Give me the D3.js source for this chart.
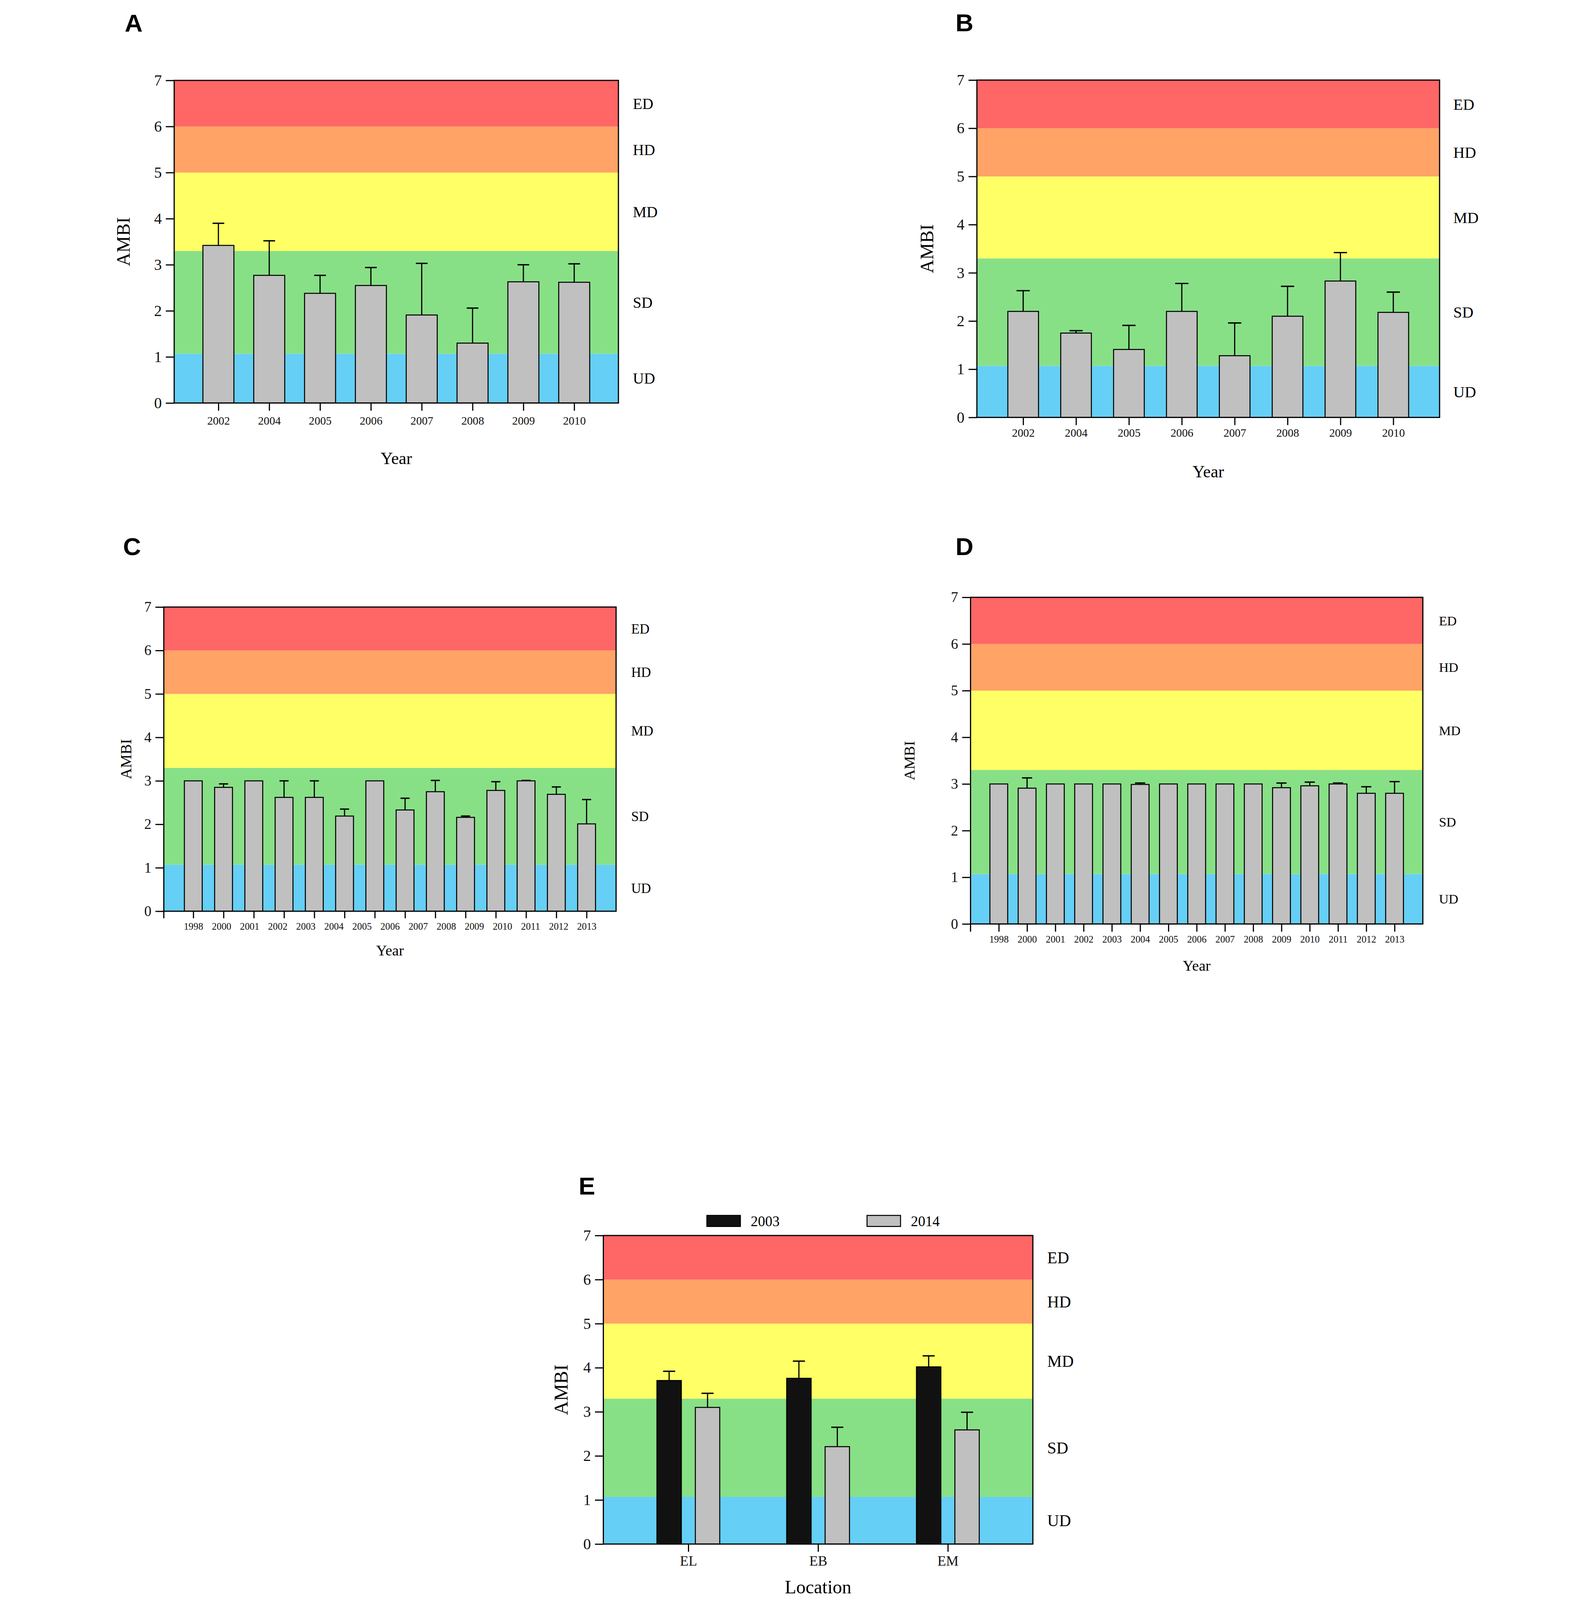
<!DOCTYPE html>
<html>
<head>
<meta charset="utf-8">
<script src="https://cdn.jsdelivr.net/npm/d3@7"></script>
<style>
  html, body { margin: 0; padding: 0; background: #fff; width: 100%; height: 100%; overflow: hidden; }
  svg { display: block; width: 100vw; height: 100vh; }
</style>
</head>
<body>
<script>
var W = 4083, H = 4776;

// AMBI disturbance classes (shared by every panel)
var bandLimits = [0, 1.07, 3.3, 5, 6, 7];
var bandNames = ["UD", "SD", "MD", "HD", "ED"];
var bandColors = ["#66cff5", "#88e086", "#ffff66", "#ffa366", "#ff6666"];
var yTicks = [0, 1, 2, 3, 4, 5, 6, 7];

// panel A
var yearsA = ["2002", "2004", "2005", "2006", "2007", "2008", "2009", "2010"];
var meanA = [3.42, 2.77, 2.38, 2.55, 1.91, 1.30, 2.63, 2.62];
var errA = [0.48, 0.75, 0.39, 0.39, 1.12, 0.76, 0.37, 0.40];

// panel B
var yearsB = ["2002", "2004", "2005", "2006", "2007", "2008", "2009", "2010"];
var meanB = [2.20, 1.75, 1.41, 2.20, 1.28, 2.10, 2.83, 2.18];
var errB = [0.43, 0.05, 0.50, 0.58, 0.68, 0.62, 0.59, 0.42];

// panel C: 14 bars but 15 year labels in the original figure
var yearsC = ["1998", "2000", "2001", "2002", "2003", "2004", "2005", "2006",
              "2007", "2008", "2009", "2010", "2011", "2012", "2013"];
var meanC = [3.00, 2.85, 3.00, 2.62, 2.62, 2.19, 3.00, 2.33, 2.75, 2.16, 2.78, 3.00, 2.69, 2.01];
var errC = [0, 0.08, 0, 0.38, 0.38, 0.16, 0, 0.27, 0.26, 0.03, 0.20, 0.01, 0.17, 0.56];

// panel D
var yearsD = ["1998", "2000", "2001", "2002", "2003", "2004", "2005", "2006",
              "2007", "2008", "2009", "2010", "2011", "2012", "2013"];
var meanD = [3.00, 2.91, 3.00, 3.00, 3.00, 2.99, 3.00, 3.00, 3.00, 3.00, 2.92, 2.96, 3.00, 2.80, 2.80];
var errD = [0, 0.22, 0, 0, 0, 0.03, 0, 0, 0, 0, 0.10, 0.08, 0.02, 0.14, 0.25];

// panel E
var locationsE = ["EL", "EB", "EM"];
var seriesE = ["2003", "2014"];
var mean2003 = [3.71, 3.76, 4.02];
var err2003 = [0.21, 0.39, 0.25];
var mean2014 = [3.10, 2.21, 2.59];
var err2014 = [0.32, 0.44, 0.40];

var serif = "'Liberation Serif', 'Times New Roman', serif";
var sans = "'Liberation Sans', Arial, sans-serif";

// scale the whole figure into whatever viewport we get
var svg = d3.select("body").append("svg")
    .attr("viewBox", "0 0 " + W + " " + H)
    .attr("preserveAspectRatio", "xMidYMin meet");

// background bands, frame, y axis, band names, titles
function drawFrame(g, p, y) {
  var w = p.box[2] - p.box[0], h = p.box[3] - p.box[1];
  var bands = d3.range(bandNames.length);

  g.selectAll("rect.band")
    .data(bands)
    .join("rect")
      .attr("class", "band")
      .attr("x", 0)
      .attr("width", w)
      .attr("y", function(i) { return y(bandLimits[i + 1]); })
      .attr("height", function(i) { return y(bandLimits[i]) - y(bandLimits[i + 1]); })
      .attr("fill", function(i) { return bandColors[i]; });

  g.selectAll("text.bandname")
    .data(bands)
    .join("text")
      .attr("class", "bandname")
      .attr("x", w + p.bandX)
      .attr("y", function(i) { return y((bandLimits[i] + bandLimits[i + 1]) / 2); })
      .attr("dy", "0.35em")
      .style("font-family", serif)
      .style("font-size", p.bandFs + "px")
      .text(function(i) { return bandNames[i]; });

  var ya = g.append("g")
      .call(d3.axisLeft(y).tickValues(yTicks).tickFormat(d3.format("d"))
        .tickSize(25).tickPadding(12));
  ya.select(".domain").remove();
  ya.selectAll("line").attr("stroke-width", 3.5);
  ya.selectAll("text")
      .style("font-family", serif)
      .style("font-size", p.tickFs + "px")
      .attr("fill", "#111");

  g.append("text")
      .attr("transform", "translate(" + (-p.ylabX) + "," + (h / 2) + ") rotate(-90)")
      .attr("text-anchor", "middle")
      .attr("dy", "0.35em")
      .style("font-family", serif)
      .style("font-size", p.ylabFs + "px")
      .text("AMBI");

  g.append("text")
      .attr("x", w / 2)
      .attr("y", h + p.titleY)
      .attr("text-anchor", "middle")
      .attr("dy", "0.35em")
      .style("font-family", serif)
      .style("font-size", p.titleFs + "px")
      .text(p.title);

  svg.append("text")
      .attr("x", p.lx)
      .attr("y", p.ly)
      .attr("text-anchor", "middle")
      .attr("dy", "0.36em")
      .style("font-family", sans)
      .style("font-weight", "bold")
      .style("font-size", "74px")
      .text(p.letter);
}

function drawBars(g, cx, y, mean, err, bw, cw, fill) {
  var idx = d3.range(mean.length);
  g.selectAll(null)
    .data(idx)
    .join("rect")
      .attr("x", function(i) { return cx(i) - bw / 2; })
      .attr("width", bw)
      .attr("y", function(i) { return y(mean[i]); })
      .attr("height", function(i) { return y(0) - y(mean[i]); })
      .attr("fill", fill)
      .attr("stroke", "#000")
      .attr("stroke-width", 3);

  var eb = idx.filter(function(i) { return err[i] > 0; });
  g.selectAll(null)
    .data(eb)
    .join("line")
      .attr("x1", cx).attr("x2", cx)
      .attr("y1", function(i) { return y(mean[i]); })
      .attr("y2", function(i) { return y(mean[i] + err[i]); })
      .attr("stroke", "#000")
      .attr("stroke-width", 3.5);
  g.selectAll(null)
    .data(eb)
    .join("line")
      .attr("x1", function(i) { return cx(i) - cw / 2; })
      .attr("x2", function(i) { return cx(i) + cw / 2; })
      .attr("y1", function(i) { return y(mean[i] + err[i]); })
      .attr("y2", function(i) { return y(mean[i] + err[i]); })
      .attr("stroke", "#000")
      .attr("stroke-width", 4);
}

function outline(g, p) {
  g.append("rect")
      .attr("width", p.box[2] - p.box[0])
      .attr("height", p.box[3] - p.box[1])
      .attr("fill", "none")
      .attr("stroke", "#000")
      .attr("stroke-width", 3.5);
}

function styleX(ax, p) {
  ax.select(".domain").remove();
  ax.selectAll("line").attr("stroke-width", 3.5);
  ax.selectAll("text")
      .style("font-family", serif)
      .style("font-size", p.xFs + "px")
      .attr("fill", "#111");
}

// single-series year panel
function yearPanel(p) {
  var w = p.box[2] - p.box[0], h = p.box[3] - p.box[1];
  var g = svg.append("g").attr("transform", "translate(" + p.box[0] + "," + p.box[1] + ")");
  var y = d3.scaleLinear().domain([0, 7]).range([h, 0]);
  var x = d3.scalePoint().domain(d3.range(p.mean.length)).range([0, w]).padding(p.pad);
  var step = x.step();

  drawFrame(g, p, y);
  drawBars(g, x, y, p.mean, p.err, step * p.barW, step * p.capW, "#c0c0c0");
  outline(g, p);

  var tickLen = p.xTick || 23;
  var pad = p.xOff - 0.38 * p.xFs;
  var ticks = g.append("g")
      .attr("transform", "translate(0," + h + ")")
      .call(d3.axisBottom(x).tickSize(tickLen).tickFormat(""));
  styleX(ticks, p);

  // year labels, spread between first and last bar
  var lx = d3.scalePoint().domain(p.labels).range([x(0), x(p.mean.length - 1)]);
  var labs = g.append("g")
      .attr("transform", "translate(0," + h + ")")
      .call(d3.axisBottom(lx).tickSize(0).tickPadding(pad));
  styleX(labs, p);
  labs.selectAll("line").remove();

  if (p.edgeTick) {
    g.append("line")
        .attr("x1", 0).attr("x2", 0)
        .attr("y1", h).attr("y2", h + tickLen)
        .attr("stroke", "#000")
        .attr("stroke-width", 3.5);
  }
}

yearPanel({ letter: "A", lx: 60, ly: 68, box: [181, 240, 1507, 1203], title: "Year",
  labels: yearsA, mean: meanA, err: errA, pad: 0.87, barW: 0.61, capW: 0.23,
  tickFs: 46, xFs: 34, xOff: 53, titleFs: 51, titleY: 164, bandFs: 46, bandX: 43, ylabFs: 56, ylabX: 152 });

yearPanel({ letter: "B", lx: 2540, ly: 67, box: [2577, 239, 3958, 1246], title: "Year",
  labels: yearsB, mean: meanB, err: errB, pad: 0.875, barW: 0.58, capW: 0.25,
  tickFs: 46, xFs: 34, xOff: 46, titleFs: 51, titleY: 161, bandFs: 47, bandX: 41, ylabFs: 56, ylabX: 150 });

yearPanel({ letter: "C", lx: 55, ly: 1630, box: [150, 1812, 1500, 2720], title: "Year",
  labels: yearsC, mean: meanC, err: errC, pad: 0.975, barW: 0.59, capW: 0.3, edgeTick: true, xTick: 21,
  tickFs: 43, xFs: 29, xOff: 46, titleFs: 45, titleY: 116, bandFs: 41, bandX: 45, ylabFs: 46, ylabX: 113 });

yearPanel({ letter: "D", lx: 2540, ly: 1630, box: [2558, 1783, 3908, 2758], title: "Year",
  labels: yearsD, mean: meanD, err: errD, pad: 1.0, barW: 0.63, capW: 0.36, edgeTick: true,
  tickFs: 43, xFs: 29, xOff: 46, titleFs: 45, titleY: 124, bandFs: 40, bandX: 48, ylabFs: 45, ylabX: 183 });

// panel E: grouped bars by location
(function() {
  var p = { letter: "E", lx: 1413, ly: 3539, box: [1462, 3688, 2744, 4609], title: "Location",
    tickFs: 46, xFs: 42, xOff: 50, titleFs: 56, titleY: 127, bandFs: 49, bandX: 43, ylabFs: 58, ylabX: 127 };
  var w = p.box[2] - p.box[0], h = p.box[3] - p.box[1];
  var g = svg.append("g").attr("transform", "translate(" + p.box[0] + "," + p.box[1] + ")");
  var y = d3.scaleLinear().domain([0, 7]).range([h, 0]);
  var x = d3.scalePoint().domain(locationsE).range([0, w]).padding(0.655);
  var step = x.step();
  var off = step * 0.148, bw = step * 0.188, cw = step * 0.093;

  drawFrame(g, p, y);
  drawBars(g, function(i) { return x(locationsE[i]) - off; }, y, mean2003, err2003, bw, cw, "#111");
  drawBars(g, function(i) { return x(locationsE[i]) + off; }, y, mean2014, err2014, bw, cw, "#c0c0c0");
  outline(g, p);

  var ax = g.append("g")
      .attr("transform", "translate(0," + h + ")")
      .call(d3.axisBottom(x).tickSize(23).tickPadding(p.xOff - 0.38 * p.xFs - 23));
  styleX(ax, p);

  // legend above the plot
  var fills = ["#111", "#c0c0c0"];
  var lg = svg.append("g").attr("transform", "translate(1771,3628)");
  var item = lg.selectAll("g")
    .data(seriesE)
    .join("g")
      .attr("transform", function(d, i) { return "translate(" + (i * 478) + ",0)"; });
  item.append("rect")
      .attr("width", 100)
      .attr("height", 33)
      .attr("fill", function(d, i) { return fills[i]; })
      .attr("stroke", "#000")
      .attr("stroke-width", 3);
  item.append("text")
      .attr("x", 131)
      .attr("y", 17)
      .attr("dy", "0.35em")
      .style("font-family", serif)
      .style("font-size", "43px")
      .text(function(d) { return d; });
})();
</script>
</body>
</html>
